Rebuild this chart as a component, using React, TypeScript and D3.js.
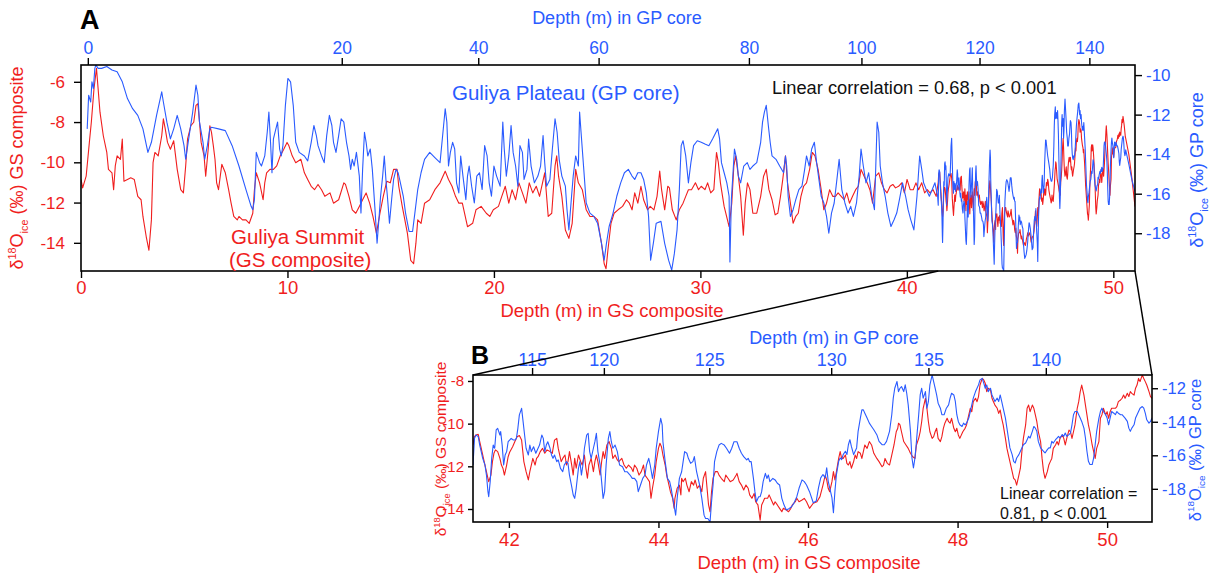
import React, { useEffect, useRef } from 'react';
import * as d3 from 'd3';

const RED = '#f01e1e';
const BLUE = '#2a5bff';
const FONT = '"Liberation Sans", Arial, Helvetica, sans-serif';

// Guliya Summit (GS composite): [depth in GS composite (m), d18O ice (permil)], 0 - 41.5 m
const summitA: [number, number][] = [
  [0, -10.85], [0.08, -11.27], [0.25, -10.69], [0.42, -8.85], [0.5, -8.01], [0.63, -6.33], [0.75, -5.33], [0.92, -7.51],
  [1.08, -8.68], [1.25, -9.51], [1.33, -10.35], [1.5, -10.52], [1.58, -11.36], [1.66, -10.18], [1.75, -9.68], [1.91, -9.85],
  [2, -8.85], [2.08, -10.94], [2.25, -10.85], [2.41, -10.77], [2.58, -10.85], [2.75, -11.69], [2.91, -11.86], [3, -12.69],
  [3.16, -13.7], [3.29, -14.37], [3.41, -12.86], [3.49, -10.02], [3.58, -9.51], [3.74, -9.68], [3.91, -8.68], [3.99, -7.84],
  [4.08, -8.34], [4.19, -9.01], [4.33, -9.35], [4.49, -8.93], [4.58, -9.68], [4.66, -10.35], [4.83, -11.36], [4.96, -11.52],
  [5.07, -10.18], [5.16, -8.85], [5.32, -8.18], [5.46, -8.01], [5.57, -7.17], [5.66, -7.09], [5.74, -8.01], [5.82, -9.01],
  [5.96, -9.68], [6.04, -10.69], [6.16, -9.35], [6.24, -8.18], [6.32, -8.51], [6.41, -9.18], [6.49, -9.85], [6.57, -11.02],
  [6.66, -11.36], [6.82, -10.1], [6.99, -10.52], [7.15, -11.36], [7.27, -12.03], [7.4, -12.69], [7.57, -12.86], [7.65, -12.69],
  [7.82, -12.86], [7.99, -12.86], [8.15, -13.03], [8.32, -12.53], [8.4, -11.36], [8.49, -10.52], [8.65, -11.02], [8.82, -11.86],
  [8.9, -11.02], [8.99, -10.52], [9.15, -10.35], [9.32, -10.35], [9.48, -10.18], [9.65, -9.68], [9.82, -9.35], [9.98, -9.01],
  [10.07, -9.18], [10.23, -9.68], [10.4, -10.02], [10.65, -9.85], [10.82, -10.52], [10.98, -10.85], [11.15, -11.19], [11.31, -11.36],
  [11.48, -11.1], [11.65, -11.36], [11.81, -11.69], [12.06, -11.52], [12.23, -12.03], [12.48, -11.86], [12.73, -11.02], [12.81, -11.1],
  [12.98, -11.69], [13.14, -12.36], [13.31, -12.53], [13.48, -12.19], [13.64, -11.86], [13.81, -11.52], [13.98, -12.03], [14.14, -12.69],
  [14.31, -13.53], [14.48, -12.53], [14.64, -11.69], [14.81, -10.94], [14.98, -11.02], [15.14, -10.35], [15.31, -10.35], [15.39, -11.19],
  [15.56, -12.19], [15.81, -13.53], [15.97, -14.87], [16.11, -15.04], [16.22, -14.03], [16.31, -12.86], [16.47, -13.03], [16.64, -12.03],
  [16.89, -11.86], [17.14, -11.36], [17.39, -11.02], [17.64, -10.44], [17.8, -10.85], [17.97, -11.19], [18.14, -11.69], [18.3, -12.03],
  [18.47, -12.03], [18.72, -13.2], [18.97, -13.03], [19.13, -12.36], [19.38, -12.19], [19.63, -12.53], [19.8, -12.69], [19.97, -12.36],
  [20.22, -12.19], [20.38, -11.69], [20.55, -11.19], [20.72, -12.03], [20.88, -11.36], [21.05, -11.86], [21.21, -11.02], [21.38, -11.52],
  [21.55, -12.03], [21.71, -11.02], [21.88, -11.52], [22.05, -11.19], [22.21, -11.69], [22.46, -10.52], [22.63, -12.69], [22.8, -12.53],
  [22.96, -10.18], [23.04, -9.68], [23.13, -10.69], [23.29, -11.69], [23.46, -13.36], [23.63, -13.78], [23.79, -13.03], [23.96, -10.35],
  [24.09, -11.02], [24.28, -11.36], [24.47, -12.36], [24.65, -12.69], [24.84, -12.69], [25.02, -12.86], [25.21, -14.03], [25.34, -15.04],
  [25.43, -15.29], [25.52, -14.37], [25.67, -13.03], [25.82, -12.53], [26.01, -12.36], [26.23, -12.19], [26.42, -11.86], [26.56, -12.03],
  [26.69, -12.36], [26.82, -11.52], [26.97, -12.03], [27.12, -11.19], [27.25, -11.86], [27.44, -12.36], [27.57, -12.19], [27.75, -12.36],
  [27.9, -11.69], [28.03, -10.44], [28.12, -11.36], [28.27, -12.36], [28.42, -11.19], [28.5, -11.27], [28.64, -12.36], [28.83, -12.86],
  [28.98, -12.36], [29.16, -12.03], [29.29, -11.69], [29.42, -11.36], [29.57, -11.36], [29.76, -11.02], [29.91, -11.36], [30.04, -11.19],
  [30.22, -11.36], [30.35, -11.02], [30.5, -11.52], [30.65, -11.36], [30.78, -9.51], [30.87, -10.02], [30.97, -11.02], [31.15, -12.19],
  [31.39, -13.2], [31.52, -12.03], [31.62, -10.18], [31.71, -9.68], [31.84, -10.69], [31.95, -11.69], [32.08, -13.62], [32.17, -12.03],
  [32.28, -11.02], [32.4, -11.36], [32.54, -12.53], [32.73, -12.53], [32.92, -11.69], [33.06, -10.69], [33.19, -10.35], [33.32, -11.36],
  [33.47, -11.86], [33.62, -12.61], [33.75, -12.53], [33.88, -11.69], [33.99, -10.85], [34.12, -9.68], [34.22, -11.02], [34.36, -12.03],
  [34.49, -13.03], [34.62, -12.69], [34.74, -12.53], [34.87, -11.69], [35, -11.19], [35.14, -11.02], [35.29, -10.35], [35.42, -9.51],
  [35.55, -9.68], [35.7, -10.35], [35.85, -11.36], [35.98, -12.36], [36.11, -12.03], [36.26, -11.36], [36.41, -11.69], [36.54, -11.69],
  [36.67, -11.52], [36.82, -11.69], [36.96, -11.86], [37.09, -11.52], [37.22, -12.03], [37.37, -11.69], [37.52, -11.36], [37.65, -11.19],
  [37.78, -10.35], [37.93, -10.69], [38.08, -11.02], [38.21, -11.36], [38.34, -12.03], [38.49, -10.69], [38.64, -10.52], [38.77, -11.02],
  [38.91, -11.36], [39.04, -11.52], [39.19, -11.19], [39.32, -11.1], [39.45, -11.27], [39.6, -11.19], [39.75, -11.02], [39.88, -11.52],
  [40.01, -10.85], [40.16, -11.36], [40.31, -11.36], [40.44, -11.02], [40.57, -11.36], [40.72, -11.02], [40.86, -11.52], [40.99, -11.36],
  [41.12, -11.52], [41.27, -11.36], [41.42, -11.69],
];

// Guliya Summit, 41.5 - 51 m (zoomed section)
const summitB: [number, number][] = [
  [41.52, -11.0], [41.54, -10.61], [41.56, -10.53], [41.59, -10.5], [41.61, -10.84], [41.64, -11.31], [41.68, -11.94], [41.71, -12.41],
  [41.73, -12.72], [41.76, -12.41], [41.78, -11.78], [41.8, -11.39], [41.82, -11.23], [41.85, -11.31], [41.88, -11.63], [41.9, -11.94],
  [41.92, -12.09], [41.94, -12.41], [41.97, -11.94], [41.99, -11.55], [42.01, -11.34], [42.05, -11.08], [42.08, -10.84], [42.11, -10.61],
  [42.14, -10.56], [42.17, -10.77], [42.2, -11.78], [42.23, -12.25], [42.26, -12.64], [42.28, -12.25], [42.3, -11.94], [42.32, -11.63],
  [42.35, -11.94], [42.37, -11.63], [42.39, -11.55], [42.42, -11.31], [42.45, -11.16], [42.48, -11.39], [42.51, -11.23], [42.55, -11.31],
  [42.58, -11.39], [42.61, -10.77], [42.64, -10.69], [42.66, -11.16], [42.68, -11.47], [42.7, -11.78], [42.72, -11.63], [42.75, -11.47],
  [42.77, -11.94], [42.79, -11.78], [42.81, -11.31], [42.84, -11.94], [42.86, -12.41], [42.88, -11.63], [42.9, -12.09], [42.93, -11.47],
  [42.96, -11.78], [42.98, -11.94], [43.01, -11.47], [43.03, -12.09], [43.05, -12.56], [43.07, -11.94], [43.1, -11.63], [43.13, -12.25],
  [43.15, -11.78], [43.17, -11.47], [43.19, -11.78], [43.22, -12.41], [43.24, -11.78], [43.26, -11.31], [43.28, -11.63], [43.31, -11.0],
  [43.34, -10.84], [43.37, -11.16], [43.39, -11.63], [43.42, -11.47], [43.45, -11.7], [43.47, -11.78], [43.51, -11.63], [43.54, -11.94],
  [43.57, -12.09], [43.6, -11.94], [43.64, -12.09], [43.66, -12.25], [43.68, -11.94], [43.71, -12.09], [43.74, -12.41], [43.77, -12.25],
  [43.8, -11.94], [43.82, -12.41], [43.85, -12.56], [43.88, -12.72], [43.9, -13.5], [43.92, -13.03], [43.95, -12.41], [43.97, -11.78],
  [44.0, -11.16], [44.02, -10.92], [44.04, -11.08], [44.06, -11.47], [44.09, -11.94], [44.11, -12.41], [44.13, -12.72], [44.16, -13.19],
  [44.19, -13.5], [44.21, -13.97], [44.22, -13.5], [44.25, -13.03], [44.28, -12.88], [44.3, -13.34], [44.31, -12.56], [44.33, -12.72],
  [44.36, -12.56], [44.38, -12.88], [44.41, -13.19], [44.44, -12.72], [44.47, -12.88], [44.49, -12.64], [44.52, -13.03], [44.55, -12.88],
  [44.58, -13.19], [44.6, -12.56], [44.63, -12.25], [44.65, -13.03], [44.67, -13.81], [44.69, -14.13], [44.71, -13.19], [44.73, -12.56],
  [44.76, -12.25], [44.79, -12.25], [44.81, -12.41], [44.84, -12.56], [44.88, -12.72], [44.9, -12.41], [44.93, -12.56], [44.96, -12.72],
  [45.0, -12.64], [45.04, -12.41], [45.05, -12.33], [45.08, -12.72], [45.11, -12.88], [45.14, -13.11], [45.17, -12.88], [45.2, -13.03],
  [45.22, -13.34], [45.25, -13.5], [45.28, -13.27], [45.3, -13.66], [45.33, -13.81], [45.36, -14.52], [45.38, -13.81], [45.4, -13.66],
  [45.42, -13.5], [45.46, -13.5], [45.48, -13.34], [45.51, -13.58], [45.54, -13.81], [45.56, -13.66], [45.59, -13.81], [45.62, -13.97],
  [45.65, -14.13], [45.67, -13.97], [45.71, -14.05], [45.74, -14.13], [45.77, -13.97], [45.79, -13.81], [45.83, -13.66], [45.85, -13.5],
  [45.88, -13.66], [45.92, -13.58], [45.95, -13.5], [45.98, -13.66], [46.02, -13.97], [46.07, -13.73], [46.12, -13.66], [46.16, -13.42],
  [46.2, -12.88], [46.23, -12.41], [46.25, -12.64], [46.27, -13.03], [46.29, -13.19], [46.32, -12.72], [46.34, -12.25], [46.36, -12.64],
  [46.38, -12.25], [46.41, -11.63], [46.43, -11.31], [46.45, -11.63], [46.47, -11.63], [46.5, -11.47], [46.52, -11.86], [46.54, -11.94],
  [46.56, -11.78], [46.58, -12.09], [46.61, -11.78], [46.63, -11.47], [46.65, -11.63], [46.67, -11.31], [46.7, -11.39], [46.72, -11.63],
  [46.74, -11.31], [46.76, -11.0], [46.79, -11.16], [46.82, -10.84], [46.85, -11.0], [46.88, -11.39], [46.92, -11.63], [46.95, -11.78],
  [46.99, -12.02], [47.01, -11.94], [47.03, -11.63], [47.06, -11.86], [47.09, -11.94], [47.12, -11.47], [47.15, -11.0], [47.18, -10.38],
  [47.2, -10.22], [47.21, -9.98], [47.23, -10.06], [47.25, -10.38], [47.28, -10.84], [47.31, -11.0], [47.34, -11.16], [47.37, -11.39],
  [47.4, -11.55], [47.43, -11.63], [47.45, -11.0], [47.48, -10.69], [47.5, -10.38], [47.52, -9.91], [47.54, -9.28], [47.57, -8.81],
  [47.59, -9.28], [47.61, -9.91], [47.63, -10.38], [47.66, -10.69], [47.68, -10.61], [47.7, -10.38], [47.72, -10.22], [47.74, -10.69],
  [47.77, -10.84], [47.79, -10.61], [47.81, -10.22], [47.83, -9.98], [47.86, -9.75], [47.88, -9.91], [47.9, -9.98], [47.92, -9.75],
  [47.95, -10.22], [47.97, -10.38], [47.99, -10.22], [48.01, -10.53], [48.03, -10.69], [48.07, -10.38], [48.1, -10.22], [48.12, -10.06],
  [48.15, -9.59], [48.17, -9.28], [48.19, -9.44], [48.21, -8.97], [48.24, -8.81], [48.26, -8.97], [48.28, -8.73], [48.3, -8.19],
  [48.33, -7.88], [48.35, -7.95], [48.37, -8.11], [48.39, -8.5], [48.41, -8.34], [48.44, -8.42], [48.46, -8.81], [48.48, -8.97],
  [48.5, -9.13], [48.53, -9.28], [48.55, -9.52], [48.57, -9.36], [48.59, -9.75], [48.61, -10.06], [48.64, -10.69], [48.66, -11.16],
  [48.68, -11.47], [48.7, -11.78], [48.73, -12.25], [48.75, -12.56], [48.77, -12.64], [48.79, -12.88], [48.82, -12.41], [48.84, -12.09],
  [48.86, -11.31], [48.88, -10.69], [48.91, -10.06], [48.93, -9.28], [48.95, -9.13], [48.97, -9.44], [49.0, -9.13], [49.02, -9.28],
  [49.04, -9.59], [49.06, -9.91], [49.08, -10.38], [49.11, -10.84], [49.13, -11.63], [49.15, -12.25], [49.17, -12.56], [49.2, -12.25],
  [49.22, -11.94], [49.24, -11.78], [49.26, -11.63], [49.28, -11.16], [49.31, -11.0], [49.33, -10.84], [49.35, -11.0], [49.37, -10.69],
  [49.4, -10.53], [49.42, -10.69], [49.44, -11.0], [49.46, -10.69], [49.49, -10.3], [49.51, -10.38], [49.53, -10.69], [49.55, -10.38],
  [49.57, -10.06], [49.6, -9.28], [49.62, -8.97], [49.64, -8.5], [49.66, -8.19], [49.69, -8.66], [49.71, -9.13], [49.73, -9.59],
  [49.75, -10.06], [49.77, -10.38], [49.8, -11.0], [49.82, -11.31], [49.84, -11.63], [49.86, -11.16], [49.89, -10.84], [49.91, -9.75],
  [49.93, -9.59], [49.95, -9.28], [49.98, -9.59], [50.0, -9.44], [50.02, -9.75], [50.04, -9.44], [50.06, -9.28], [50.09, -9.28],
  [50.11, -9.28], [50.13, -9.2], [50.15, -8.97], [50.18, -8.89], [50.2, -8.81], [50.22, -8.66], [50.24, -8.81], [50.27, -8.58],
  [50.29, -8.73], [50.31, -8.5], [50.33, -8.58], [50.36, -8.66], [50.38, -8.34], [50.4, -8.19], [50.42, -7.88], [50.44, -8.03],
  [50.47, -7.72], [50.49, -7.88], [50.51, -8.03], [50.53, -8.19], [50.56, -8.5], [50.58, -8.73], [50.6, -8.81], [50.75, -9.6],
  [50.9, -10.8], [51.05, -12.2],
];

// Guliya Plateau (GP core), placed on its GS-equivalent depth (m): [depth, d18O ice (permil)], up to 41.5 m
const plateauA: [number, number][] = [
  [0.3, -12.72], [0.37, -11.02], [0.47, -11.36], [0.53, -10.34], [0.6, -10.68], [0.67, -9.66], [0.72, -9.49], [0.83, -9.66],
  [1.0, -9.66], [1.25, -9.57], [1.5, -9.74], [1.75, -9.83], [2.0, -10.34], [2.25, -11.19], [2.5, -11.7], [2.75, -12.04],
  [3.0, -12.72], [3.24, -13.91], [3.41, -13.4], [3.66, -12.04], [3.91, -10.85], [3.99, -11.36], [4.16, -12.38], [4.33, -13.23],
  [4.49, -12.72], [4.66, -12.04], [4.83, -12.72], [4.99, -13.57], [5.07, -14.26], [5.19, -13.4], [5.41, -11.87], [5.57, -10.51],
  [5.66, -11.02], [5.74, -12.38], [5.91, -13.4], [5.99, -14.26], [6.12, -13.57], [6.24, -12.72], [6.32, -12.64], [6.66, -12.72],
  [6.99, -12.81], [7.32, -13.57], [7.65, -14.6], [7.99, -15.79], [8.24, -16.64], [8.32, -16.81], [8.4, -16.3], [8.49, -13.91],
  [8.65, -14.43], [8.74, -14.6], [8.9, -14.09], [9.02, -12.89], [9.1, -11.87], [9.18, -13.4], [9.25, -14.94], [9.32, -13.23],
  [9.4, -12.89], [9.52, -12.38], [9.62, -13.74], [9.7, -14.09], [9.78, -13.57], [9.9, -11.53], [10.02, -10.17], [10.15, -10.34],
  [10.28, -11.53], [10.4, -13.4], [10.57, -13.91], [10.82, -14.09], [10.98, -14.34], [11.15, -13.4], [11.28, -12.55], [11.4, -13.06],
  [11.48, -13.57], [11.65, -14.09], [11.78, -14.43], [11.9, -13.06], [12.03, -12.04], [12.15, -12.55], [12.23, -13.4], [12.35, -13.91],
  [12.48, -13.06], [12.6, -12.21], [12.73, -12.38], [12.86, -13.4], [12.98, -14.09], [13.06, -14.77], [13.14, -14.26], [13.23, -14.6],
  [13.34, -13.91], [13.48, -15.11], [13.56, -16.98], [13.64, -14.77], [13.73, -12.89], [13.81, -13.4], [13.89, -14.09], [14.01, -13.74],
  [14.11, -14.77], [14.23, -16.64], [14.34, -18.51], [14.44, -17.15], [14.51, -16.13], [14.61, -15.11], [14.69, -14.09], [14.78, -15.45],
  [14.84, -16.13], [14.94, -17.49], [15.06, -16.13], [15.14, -15.28], [15.26, -14.77], [15.36, -14.94], [15.47, -15.45], [15.61, -16.13],
  [15.72, -16.98], [15.89, -17.91], [16.06, -17.91], [16.17, -16.98], [16.31, -15.79], [16.47, -14.94], [16.64, -14.26], [16.89, -13.91],
  [17.14, -14.17], [17.39, -14.43], [17.5, -13.23], [17.64, -11.7], [17.72, -12.38], [17.8, -14.6], [17.89, -13.91], [18.0, -13.4],
  [18.1, -13.74], [18.19, -15.45], [18.3, -15.96], [18.39, -14.09], [18.5, -15.11], [18.64, -16.3], [18.72, -15.11], [18.8, -14.6],
  [18.92, -15.62], [19.05, -16.47], [19.17, -15.11], [19.3, -14.94], [19.43, -15.79], [19.55, -13.57], [19.67, -14.09], [19.77, -15.45],
  [19.88, -16.13], [20.0, -14.6], [20.13, -15.11], [20.3, -15.62], [20.43, -12.38], [20.5, -13.74], [20.6, -15.11], [20.72, -14.09],
  [20.83, -12.55], [20.93, -13.91], [21.05, -14.6], [21.16, -15.62], [21.26, -13.57], [21.38, -13.91], [21.46, -15.28], [21.6, -14.77],
  [21.68, -13.23], [21.8, -14.6], [21.96, -15.45], [22.13, -15.11], [22.26, -14.6], [22.38, -13.06], [22.46, -14.43], [22.55, -15.62],
  [22.71, -15.28], [22.83, -13.74], [22.96, -12.21], [23.06, -12.89], [23.16, -14.26], [23.29, -15.11], [23.46, -15.62], [23.54, -16.81],
  [23.63, -17.83], [23.76, -16.13], [23.84, -15.11], [23.96, -14.09], [24.09, -14.6], [24.15, -11.87], [24.22, -12.89], [24.34, -14.6],
  [24.47, -16.47], [24.65, -16.98], [24.84, -17.15], [25.02, -17.49], [25.21, -18.51], [25.34, -19.36], [25.45, -18.51], [25.58, -17.66],
  [25.77, -16.98], [25.95, -16.13], [26.14, -15.45], [26.32, -14.94], [26.51, -14.77], [26.69, -15.11], [26.82, -15.28], [26.97, -14.94],
  [27.12, -14.94], [27.25, -15.28], [27.38, -15.96], [27.49, -17.15], [27.59, -19.36], [27.72, -18.51], [27.86, -17.49], [28.09, -17.4],
  [28.27, -18.51], [28.46, -19.36], [28.61, -19.87], [28.74, -19.02], [28.87, -17.83], [28.98, -15.79], [29.07, -13.57], [29.16, -13.32],
  [29.29, -14.09], [29.42, -15.45], [29.54, -14.43], [29.67, -13.57], [29.85, -13.32], [30.04, -13.4], [30.22, -13.49], [30.41, -13.57],
  [30.59, -13.23], [30.84, -12.72], [30.93, -13.23], [31.02, -14.43], [31.15, -14.94], [31.28, -15.45], [31.39, -16.13], [31.43, -19.45],
  [31.5, -16.3], [31.58, -14.94], [31.65, -13.74], [31.76, -14.26], [31.84, -15.11], [31.95, -15.45], [32.1, -14.6], [32.27, -14.43],
  [32.4, -14.77], [32.54, -14.6], [32.73, -14.43], [32.92, -13.4], [33.01, -12.38], [33.1, -11.87], [33.19, -11.53], [33.29, -12.55],
  [33.38, -13.4], [33.47, -14.09], [33.66, -14.26], [33.84, -14.6], [34.03, -14.94], [34.12, -14.09], [34.18, -14.6], [34.25, -16.13],
  [34.36, -17.15], [34.49, -16.81], [34.62, -16.3], [34.77, -15.79], [34.92, -15.62], [35.05, -14.77], [35.14, -14.09], [35.27, -14.6],
  [35.39, -13.74], [35.52, -13.4], [35.63, -14.43], [35.74, -15.28], [35.85, -16.13], [35.98, -16.47], [36.11, -17.15], [36.22, -18.0],
  [36.35, -16.98], [36.48, -16.47], [36.63, -15.11], [36.72, -14.26], [36.85, -15.79], [37.0, -16.47], [37.15, -16.98], [37.28, -16.64],
  [37.41, -17.15], [37.56, -16.47], [37.69, -15.11], [37.78, -13.74], [37.89, -14.6], [38.02, -15.45], [38.15, -14.94], [38.3, -16.13],
  [38.43, -16.81], [38.56, -12.38], [38.64, -12.89], [38.71, -14.6], [38.82, -15.45], [38.95, -16.13], [39.08, -16.98], [39.23, -17.66],
  [39.38, -17.32], [39.51, -16.98], [39.64, -16.3], [39.79, -15.45], [39.94, -16.13], [40.06, -16.81], [40.19, -17.32], [40.34, -17.83],
  [40.49, -16.13], [40.62, -14.09], [40.72, -14.77], [40.81, -15.45], [40.94, -15.79], [41.09, -16.13], [41.23, -15.79], [41.36, -15.45],
  [41.49, -16.13],
];

// Guliya Plateau, 41.5 - 51 m GS-equivalent depth (zoomed section)
const plateauB: [number, number][] = [
  [41.52, -16.58], [41.54, -14.99], [41.56, -14.79], [41.59, -14.89], [41.61, -15.39], [41.63, -15.78], [41.65, -16.18], [41.68, -16.58],
  [41.7, -17.18], [41.72, -18.17], [41.73, -18.47], [41.75, -17.57], [41.77, -16.18], [41.79, -15.39], [41.81, -15.58], [41.83, -14.49],
  [41.85, -14.39], [41.88, -14.79], [41.89, -14.59], [41.91, -15.39], [41.93, -16.58], [41.95, -15.98], [41.97, -15.78], [41.99, -15.19],
  [42.01, -15.09], [42.03, -14.99], [42.06, -15.09], [42.08, -15.09], [42.1, -14.99], [42.12, -14.39], [42.14, -13.59], [42.17, -13.2],
  [42.19, -13.99], [42.21, -14.79], [42.23, -15.58], [42.26, -15.98], [42.28, -15.39], [42.3, -15.78], [42.33, -15.49], [42.36, -15.88],
  [42.39, -15.58], [42.41, -15.39], [42.44, -14.79], [42.46, -14.99], [42.48, -15.78], [42.5, -15.39], [42.52, -15.19], [42.55, -15.58],
  [42.57, -15.98], [42.59, -16.18], [42.61, -15.98], [42.64, -16.38], [42.66, -16.28], [42.69, -16.78], [42.72, -16.98], [42.74, -16.58],
  [42.77, -16.38], [42.79, -16.48], [42.81, -17.18], [42.84, -17.87], [42.86, -18.37], [42.88, -18.57], [42.9, -17.97], [42.93, -16.78],
  [42.95, -16.38], [42.97, -17.18], [42.99, -16.58], [43.01, -15.58], [43.04, -14.79], [43.06, -14.69], [43.08, -15.78], [43.1, -16.18],
  [43.13, -15.58], [43.15, -15.19], [43.17, -14.69], [43.19, -15.78], [43.22, -16.58], [43.24, -17.57], [43.26, -18.57], [43.28, -18.17],
  [43.3, -16.58], [43.33, -14.99], [43.35, -14.59], [43.37, -15.19], [43.39, -15.58], [43.42, -15.39], [43.45, -15.78], [43.48, -16.58],
  [43.52, -16.68], [43.55, -16.98], [43.58, -16.98], [43.62, -17.18], [43.65, -17.38], [43.68, -17.38], [43.71, -17.57], [43.73, -18.17],
  [43.76, -17.77], [43.79, -17.38], [43.82, -17.18], [43.84, -16.58], [43.87, -16.18], [43.89, -16.58], [43.92, -17.38], [43.95, -16.58],
  [43.97, -15.58], [44.0, -14.59], [44.03, -13.79], [44.05, -14.19], [44.06, -15.19], [44.09, -16.38], [44.12, -17.38], [44.15, -17.57],
  [44.17, -17.97], [44.2, -18.77], [44.23, -19.57], [44.25, -18.57], [44.28, -17.38], [44.31, -16.98], [44.33, -16.38], [44.35, -15.78],
  [44.38, -15.88], [44.4, -16.18], [44.43, -16.48], [44.46, -16.38], [44.48, -16.08], [44.51, -16.98], [44.55, -17.77], [44.58, -18.57],
  [44.61, -19.57], [44.63, -19.77], [44.66, -19.77], [44.69, -19.97], [44.71, -18.77], [44.73, -17.77], [44.75, -16.38], [44.78, -15.78],
  [44.81, -15.39], [44.84, -15.29], [44.88, -15.39], [44.91, -15.58], [44.95, -15.88], [44.98, -15.58], [45.01, -15.19], [45.05, -15.19],
  [45.08, -15.58], [45.11, -15.88], [45.14, -16.08], [45.18, -16.28], [45.2, -16.18], [45.22, -16.38], [45.24, -16.38], [45.27, -17.38],
  [45.29, -18.17], [45.31, -18.77], [45.34, -18.47], [45.36, -18.47], [45.38, -18.17], [45.4, -17.57], [45.43, -17.08], [45.45, -17.38],
  [45.47, -17.18], [45.49, -17.57], [45.53, -17.38], [45.56, -17.47], [45.59, -17.67], [45.62, -17.77], [45.65, -18.57], [45.68, -18.97],
  [45.71, -19.27], [45.75, -19.17], [45.78, -19.07], [45.81, -18.87], [45.85, -18.47], [45.88, -17.97], [45.92, -17.47], [45.95, -17.57],
  [45.98, -17.77], [46.02, -18.17], [46.07, -18.83], [46.11, -18.73], [46.14, -17.94], [46.17, -17.35], [46.2, -17.15], [46.23, -17.35],
  [46.25, -16.75], [46.27, -17.54], [46.29, -17.94], [46.32, -18.53], [46.34, -19.43], [46.36, -18.14], [46.38, -17.15], [46.41, -16.36],
  [46.43, -16.16], [46.45, -16.26], [46.47, -15.96], [46.5, -15.76], [46.52, -15.96], [46.54, -15.37], [46.56, -15.07], [46.58, -15.47],
  [46.61, -15.96], [46.63, -15.76], [46.65, -15.56], [46.67, -14.57], [46.7, -13.78], [46.72, -13.29], [46.74, -13.29], [46.76, -13.49],
  [46.79, -13.78], [46.82, -14.08], [46.85, -14.28], [46.88, -14.48], [46.92, -14.77], [46.95, -15.17], [46.99, -15.37], [47.02, -15.37],
  [47.05, -15.17], [47.09, -14.57], [47.12, -13.58], [47.14, -12.59], [47.16, -12.0], [47.19, -11.6], [47.21, -12.2], [47.23, -12.0],
  [47.25, -11.9], [47.28, -12.2], [47.3, -11.8], [47.32, -12.3], [47.34, -12.99], [47.37, -14.57], [47.39, -16.16], [47.41, -16.75],
  [47.43, -16.16], [47.45, -15.17], [47.48, -13.58], [47.5, -12.4], [47.52, -12.0], [47.54, -12.59], [47.57, -12.2], [47.59, -13.19],
  [47.61, -12.79], [47.63, -11.8], [47.66, -11.21], [47.68, -11.6], [47.7, -12.0], [47.72, -12.4], [47.74, -12.89], [47.77, -13.19],
  [47.79, -13.58], [47.82, -13.58], [47.85, -13.19], [47.88, -12.99], [47.9, -12.59], [47.92, -12.3], [47.95, -12.4], [47.97, -12.79],
  [47.99, -13.58], [48.01, -13.98], [48.03, -14.18], [48.06, -14.28], [48.08, -14.08], [48.1, -14.18], [48.12, -14.08], [48.15, -13.78],
  [48.17, -13.39], [48.19, -12.99], [48.21, -12.59], [48.24, -12.2], [48.26, -12.0], [48.28, -11.8], [48.3, -11.5], [48.33, -11.41],
  [48.35, -11.7], [48.37, -12.0], [48.39, -11.8], [48.41, -12.2], [48.44, -12.0], [48.46, -12.4], [48.48, -12.59], [48.5, -12.79],
  [48.53, -12.59], [48.55, -12.79], [48.57, -12.4], [48.59, -12.79], [48.61, -13.19], [48.64, -13.78], [48.66, -14.38], [48.68, -14.97],
  [48.7, -15.56], [48.73, -15.96], [48.75, -16.36], [48.77, -16.46], [48.79, -16.16], [48.82, -15.96], [48.84, -15.76], [48.86, -15.56],
  [48.88, -15.37], [48.91, -15.27], [48.93, -15.07], [48.95, -14.87], [48.97, -14.97], [49.0, -14.57], [49.02, -14.28], [49.04, -14.38],
  [49.06, -14.57], [49.08, -15.17], [49.11, -15.56], [49.13, -15.66], [49.15, -15.76], [49.17, -15.86], [49.2, -15.66], [49.22, -15.56],
  [49.24, -15.56], [49.26, -15.17], [49.28, -15.27], [49.31, -15.07], [49.33, -14.97], [49.35, -14.87], [49.37, -14.97], [49.4, -14.77],
  [49.42, -14.87], [49.44, -14.67], [49.46, -14.87], [49.49, -14.77], [49.51, -14.67], [49.53, -14.18], [49.55, -13.58], [49.57, -13.39],
  [49.6, -13.39], [49.62, -13.58], [49.64, -13.78], [49.66, -13.98], [49.69, -14.38], [49.71, -14.97], [49.73, -15.76], [49.75, -16.36],
  [49.77, -16.55], [49.8, -16.55], [49.82, -16.16], [49.84, -15.37], [49.86, -14.57], [49.89, -13.78], [49.91, -13.39], [49.93, -13.19],
  [49.95, -13.39], [49.98, -13.58], [50.0, -13.78], [50.02, -14.18], [50.04, -13.78], [50.06, -13.39], [50.09, -13.49], [50.11, -13.58],
  [50.13, -13.39], [50.15, -13.49], [50.18, -13.58], [50.2, -13.58], [50.22, -13.68], [50.24, -13.78], [50.27, -13.98], [50.29, -14.38],
  [50.31, -14.57], [50.33, -14.38], [50.36, -14.18], [50.38, -13.78], [50.4, -13.58], [50.42, -13.39], [50.44, -13.19], [50.47, -13.09],
  [50.49, -13.19], [50.51, -13.49], [50.53, -13.88], [50.56, -14.08], [50.58, -13.98], [50.6, -13.78], [50.75, -14.5], [50.9, -15.3],
  [51.05, -15.9],
];

// axis ticks
const gsTicksA = [0, 10, 20, 30, 40, 50];
const gsTicksB = [42, 44, 46, 48, 50];
const gpTicksA = [0, 20, 40, 60, 80, 100, 120, 140];
const gpTicksAonGS = [0.33, 12.63, 19.24, 25.07, 32.35, 37.8, 43.52, 48.84];
const gpTicksB = [115, 120, 125, 130, 135, 140];
const gpTicksBonGS = [42.31, 43.27, 44.68, 46.31, 47.61, 49.18];
const gsValueTicksA = [-6, -8, -10, -12, -14];
const gpValueTicksA = [-10, -12, -14, -16, -18];
const gsValueTicksB = [-8, -10, -12, -14];
const gpValueTicksB = [-12, -14, -16, -18];

type Pt = [number, number];

interface Panel {
  name: string;
  left: number;
  right: number;
  top: number;
  bottom: number;
  gs: [number, number];
  red: [number, number];
  blue: [number, number];
  gsTicks: number[];
  gpTicks: number[];
  gpOnGS: number[];
  redTicks: number[];
  blueTicks: number[];
  tick: { left: number[]; right: number[]; bottom: number[]; top: number[] }; // [size, padding, font]
}

const panelA: Panel = {
  name: 'A',
  left: 81, right: 1135, top: 65, bottom: 271,
  gs: [0, 51.05], red: [-15.4, -5.165], blue: [-19.91, -9.49],
  gsTicks: gsTicksA, gpTicks: gpTicksA, gpOnGS: gpTicksAonGS,
  redTicks: gsValueTicksA, blueTicks: gpValueTicksA,
  tick: { left: [7, 9, 17], right: [7, 4, 17], bottom: [7, 3, 18.5], top: [7, 4, 17.5] },
};

const panelB: Panel = {
  name: 'B',
  left: 473, right: 1152, top: 375, bottom: 522,
  gs: [41.52, 50.6], red: [-14.61, -7.72], blue: [-19.98, -11.21],
  gsTicks: gsTicksB, gpTicks: gpTicksB, gpOnGS: gpTicksBonGS,
  redTicks: gsValueTicksB, blueTicks: gpValueTicksB,
  tick: { left: [5, 4, 15], right: [6, 4, 16.5], bottom: [6, 5, 18.5], top: [7, 2, 18] },
};

function styleAxis(g: any, color: string, size: number) {
  g.attr('font-family', FONT).attr('font-size', size);
  g.select('.domain').remove();
  g.selectAll('.tick line').attr('stroke', '#000').attr('stroke-width', 1.4);
  g.selectAll('.tick text').attr('fill', color);
}

function drawPanel(svg: any, p: Panel, summit: Pt[], plateau: Pt[]) {
  const x = d3.scaleLinear().domain(p.gs).range([p.left, p.right]);
  const yRed = d3.scaleLinear().domain(p.red).range([p.bottom, p.top]);
  const yBlue = d3.scaleLinear().domain(p.blue).range([p.bottom, p.top]);
  // GP depth is not linear along the GS depth axis
  const gp = d3.scaleLinear().domain(p.gpTicks).range(p.gpOnGS.map((d) => x(d)));

  const g = svg.append('g');
  const clipId = `clip-${p.name}`;
  g.append('clipPath')
    .attr('id', clipId)
    .append('rect')
    .attr('x', p.left)
    .attr('y', p.top)
    .attr('width', p.right - p.left)
    .attr('height', p.bottom - p.top);

  const redLine = d3.line<Pt>().x((d) => x(d[0])).y((d) => yRed(d[1]));
  const blueLine = d3.line<Pt>().x((d) => x(d[0])).y((d) => yBlue(d[1]));

  g.append('path')
    .datum(summit)
    .attr('d', redLine)
    .attr('fill', 'none')
    .attr('stroke', RED)
    .attr('stroke-width', 1.1)
    .attr('stroke-linejoin', 'round')
    .attr('clip-path', `url(#${clipId})`);
  g.append('path')
    .datum(plateau)
    .attr('d', blueLine)
    .attr('fill', 'none')
    .attr('stroke', BLUE)
    .attr('stroke-width', 1.1)
    .attr('stroke-linejoin', 'round')
    .attr('clip-path', `url(#${clipId})`);

  g.append('rect')
    .attr('x', p.left)
    .attr('y', p.top)
    .attr('width', p.right - p.left)
    .attr('height', p.bottom - p.top)
    .attr('fill', 'none')
    .attr('stroke', '#000')
    .attr('stroke-width', 1.6);

  const fmt = (d: any) => String(d);

  // bottom: GS composite depth
  g.append('g')
    .attr('transform', `translate(0,${p.bottom})`)
    .call(d3.axisBottom(x).tickValues(p.gsTicks).tickFormat(fmt).tickSize(p.tick.bottom[0]).tickPadding(p.tick.bottom[1]))
    .call((s: any) => styleAxis(s, RED, p.tick.bottom[2]));

  // top: GP core depth
  g.append('g')
    .attr('transform', `translate(0,${p.top})`)
    .call(d3.axisTop(gp).tickValues(p.gpTicks).tickFormat(fmt).tickSize(p.tick.top[0]).tickPadding(p.tick.top[1]))
    .call((s: any) => styleAxis(s, BLUE, p.tick.top[2]));

  // left: GS d18O
  g.append('g')
    .attr('transform', `translate(${p.left},0)`)
    .call(d3.axisLeft(yRed).tickValues(p.redTicks).tickFormat(fmt).tickSize(p.tick.left[0]).tickPadding(p.tick.left[1]))
    .call((s: any) => styleAxis(s, RED, p.tick.left[2]));

  // right: GP d18O
  g.append('g')
    .attr('transform', `translate(${p.right},0)`)
    .call(d3.axisRight(yBlue).tickValues(p.blueTicks).tickFormat(fmt).tickSize(p.tick.right[0]).tickPadding(p.tick.right[1]))
    .call((s: any) => styleAxis(s, BLUE, p.tick.right[2]));

  return { x };
}

function addText(svg: any, x: number, y: number, txt: string, size: number, color: string, anchor = 'start', weight = 'normal') {
  svg
    .append('text')
    .attr('x', x)
    .attr('y', y)
    .attr('font-family', FONT)
    .attr('font-size', size)
    .attr('font-weight', weight)
    .attr('fill', color)
    .attr('text-anchor', anchor)
    .text(txt);
}

// rotated "δ18Oice (‰) ..." axis title
function deltaTitle(svg: any, x: number, y: number, size: number, color: string, rest: string) {
  const t = svg
    .append('text')
    .attr('transform', `translate(${x},${y}) rotate(-90)`)
    .attr('text-anchor', 'middle')
    .attr('font-family', FONT)
    .attr('font-size', size)
    .attr('fill', color);
  const small = size * 0.6;
  t.append('tspan').text('δ');
  t.append('tspan').attr('font-size', small).attr('dy', -size * 0.4).text('18');
  t.append('tspan').attr('dy', size * 0.4).text('O');
  t.append('tspan').attr('font-size', small).attr('dy', size * 0.25).text('ice');
  t.append('tspan').attr('dy', -size * 0.25).text(` (‰) ${rest}`);
}

export default function App() {
  const ref = useRef<SVGSVGElement>(null);

  useEffect(() => {
    const svg = d3.select(ref.current);
    svg.selectAll('*').remove();

    const a = drawPanel(svg, panelA, [...summitA, ...summitB], [...plateauA, ...plateauB]);
    drawPanel(svg, panelB, summitB, plateauB);

    // zoom connectors from panel A to panel B
    svg.append('line')
      .attr('x1', a.x(panelB.gs[0])).attr('y1', panelA.bottom)
      .attr('x2', panelB.left).attr('y2', panelB.top)
      .attr('stroke', '#000').attr('stroke-width', 1.5);
    svg.append('line')
      .attr('x1', panelA.right).attr('y1', panelA.bottom)
      .attr('x2', panelB.right).attr('y2', panelB.top)
      .attr('stroke', '#000').attr('stroke-width', 1.5);

    // panel A texts
    addText(svg, 80, 29, 'A', 27, '#000', 'start', 'bold');
    addText(svg, 617, 24, 'Depth (m) in GP core', 18, BLUE, 'middle');
    addText(svg, 612, 317, 'Depth (m) in GS composite', 18.5, RED, 'middle');
    deltaTitle(svg, 23, 168, 18, RED, 'GS composite');
    deltaTitle(svg, 1203, 170, 18, BLUE, 'GP core');
    addText(svg, 452, 100, 'Guliya Plateau (GP core)', 20.5, BLUE);
    addText(svg, 231, 244, 'Guliya Summit', 20.5, RED);
    addText(svg, 229, 267, '(GS composite)', 20.5, RED);
    addText(svg, 772, 94, 'Linear correlation = 0.68, p < 0.001', 18.3, '#111');

    // panel B texts
    addText(svg, 471, 364, 'B', 25, '#000', 'start', 'bold');
    addText(svg, 834, 344, 'Depth (m) in GP core', 18, BLUE, 'middle');
    addText(svg, 809, 569, 'Depth (m) in GS composite', 18.5, RED, 'middle');
    deltaTitle(svg, 446, 449, 15.5, RED, 'GS composite');
    deltaTitle(svg, 1201, 450, 16.5, BLUE, 'GP core');
    addText(svg, 1000, 499, 'Linear correlation =', 16, '#111');
    addText(svg, 1000, 519, '0.81, p < 0.001', 16, '#111');
  }, []);

  return (
    <svg
      ref={ref}
      width={1212}
      height={575}
      style={{ position: 'absolute', left: 0, top: 0, background: '#fff' }}
    />
  );
}
